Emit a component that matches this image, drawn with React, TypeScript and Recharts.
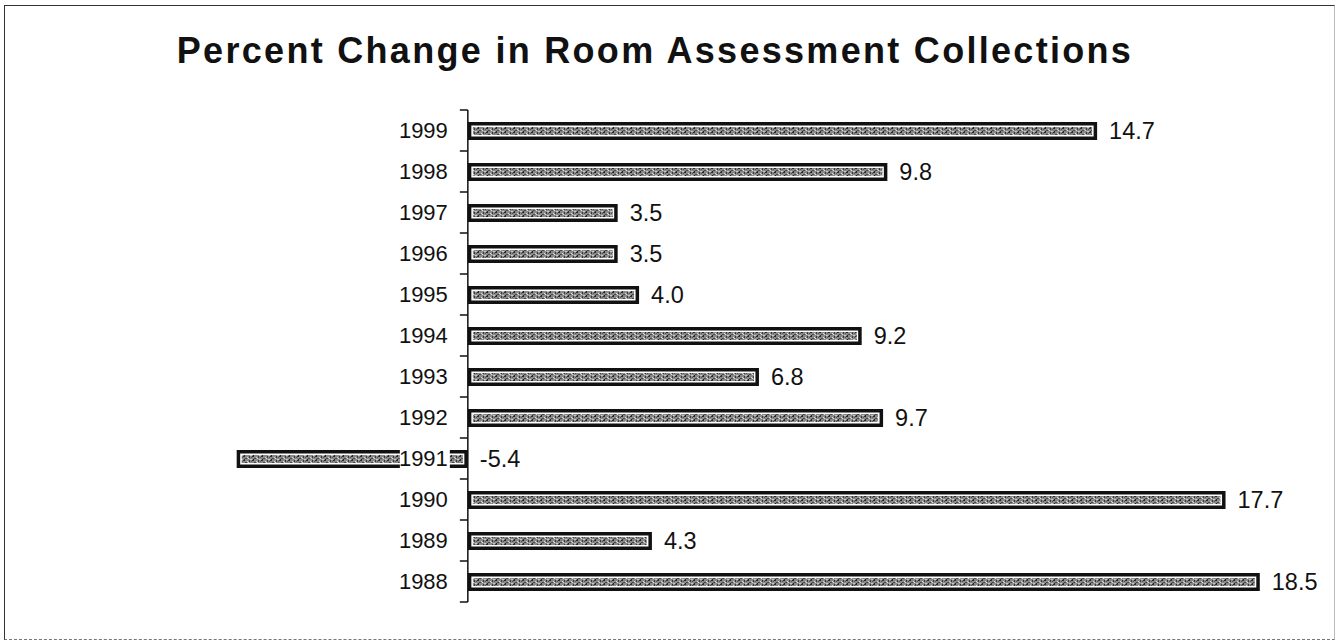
import { BarChart, Bar, XAxis, YAxis, LabelList, ReferenceLine } from 'recharts';

// Años de arriba hacia abajo, tal como aparecen en el gráfico
const years = ['1999', '1998', '1997', '1996', '1995', '1994', '1993', '1992', '1991', '1990', '1989', '1988'];
// Variación porcentual de la recaudación
const changes = [14.7, 9.8, 3.5, 3.5, 4.0, 9.2, 6.8, 9.7, -5.4, 17.7, 4.3, 18.5];
const xDomain = [-6, 20];

const chartData = years.map((year, i) => ({ year, value: changes[i] }));

const CHART_W = 1336;
const CHART_H = 641;
const PLOT_LEFT = 211;
const PLOT_RIGHT = 1324;
const PLOT_TOP = 110;
const PLOT_BOTTOM = 602;
const ZERO_X = PLOT_LEFT + ((0 - xDomain[0]) / (xDomain[1] - xDomain[0])) * (PLOT_RIGHT - PLOT_LEFT);
const HALF_BAND = (PLOT_BOTTOM - PLOT_TOP) / years.length / 2;
const FONT = 'Arial, "Liberation Sans", sans-serif';

function SpeckleBar(props: any) {
  const { x, y, width, height } = props;
  const left = Math.min(x, x + width);
  const w = Math.abs(width);
  if (w < 1) return null;
  return (
    <g>
      <rect x={left + 1.75} y={y + 1.75} width={w - 3.5} height={height - 3.5} fill="#fff" stroke="#111" strokeWidth={3.5} />
      <rect x={left + 5} y={y + 5} width={Math.max(w - 10, 0)} height={height - 10} fill="url(#speckle)" />
    </g>
  );
}

function ValueLabel(props: any) {
  const vb = props.viewBox || props;
  const { x, y, width, height } = vb;
  const value = Number(props.value);
  const end = Math.max(x, x + width);
  return (
    <text x={end + 12} y={y + height / 2} dominantBaseline="central" fontSize={23.5} fontFamily={FONT} fill="#111">
      {value.toFixed(1)}
    </text>
  );
}

function YearTick(props: any) {
  const { y, payload, index } = props;
  const tx = ZERO_X - 20;
  return (
    <g>
      <rect x={tx - 48} y={y - 11} width={50} height={22} fill="#fff" />
      <text x={tx} y={y} textAnchor="end" dominantBaseline="central" fontSize={22} fontFamily={FONT} fill="#111">
        {payload.value}
      </text>
      <line x1={ZERO_X - 8} x2={ZERO_X} y1={y - HALF_BAND} y2={y - HALF_BAND} stroke="#111" strokeWidth={1.5} />
      {index === years.length - 1 && (
        <line x1={ZERO_X - 8} x2={ZERO_X} y1={y + HALF_BAND} y2={y + HALF_BAND} stroke="#111" strokeWidth={1.5} />
      )}
    </g>
  );
}

export default function App() {
  return (
    <div style={{ position: 'absolute', left: 0, top: 0, width: CHART_W, height: CHART_H, background: '#fff' }}>
      {/* textura gris moteada de las barras */}
      <svg width={0} height={0} style={{ position: 'absolute' }}>
        <defs>
          <pattern id="speckle" width={9} height={4} patternUnits="userSpaceOnUse">
            <rect width={9} height={4} fill="#8a8a8a" />
            <rect x={0} y={0} width={2} height={1} fill="#2a2a2a" />
            <rect x={4} y={1} width={1} height={1} fill="#d8d8d8" />
            <rect x={6} y={0} width={1} height={2} fill="#3a3a3a" />
            <rect x={2} y={2} width={2} height={1} fill="#4a4a4a" />
            <rect x={7} y={3} width={2} height={1} fill="#c8c8c8" />
            <rect x={1} y={3} width={1} height={1} fill="#222" />
            <rect x={5} y={2} width={1} height={1} fill="#e0e0e0" />
            <rect x={8} y={1} width={1} height={1} fill="#555" />
          </pattern>
        </defs>
      </svg>
      <div
        style={{
          position: 'absolute',
          left: 4,
          top: 5,
          width: 1329,
          height: 633,
          borderTop: '1.5px solid #333',
          borderLeft: '1.5px solid #333',
          borderRight: '1px solid #bbb',
          borderBottom: '1px dashed #777',
        }}
      />
      <svg width={CHART_W} height={80} style={{ position: 'absolute', left: 0, top: 0 }}>
        <text x={655} y={63} textAnchor="middle" fontSize={36} fontWeight="bold" letterSpacing={2.3} fontFamily={FONT} fill="#111">
          Percent Change in Room Assessment Collections
        </text>
      </svg>
      <div style={{ position: 'absolute', left: 0, top: 0 }}>
        <BarChart
          width={CHART_W}
          height={CHART_H}
          data={chartData}
          layout="vertical"
          margin={{ top: PLOT_TOP, right: CHART_W - PLOT_RIGHT, bottom: CHART_H - PLOT_BOTTOM, left: PLOT_LEFT - 1 }}
        >
          <XAxis type="number" domain={xDomain} hide allowDataOverflow />
          <YAxis
            type="category"
            dataKey="year"
            width={1}
            axisLine={false}
            tickLine={false}
            interval={0}
            tick={(p: any) => <YearTick {...p} />}
          />
          <Bar dataKey="value" barSize={18} shape={<SpeckleBar />} isAnimationActive={false}>
            <LabelList dataKey="value" content={<ValueLabel />} />
          </Bar>
          <ReferenceLine x={0} stroke="#111" strokeWidth={1.5} />
        </BarChart>
      </div>
    </div>
  );
}
